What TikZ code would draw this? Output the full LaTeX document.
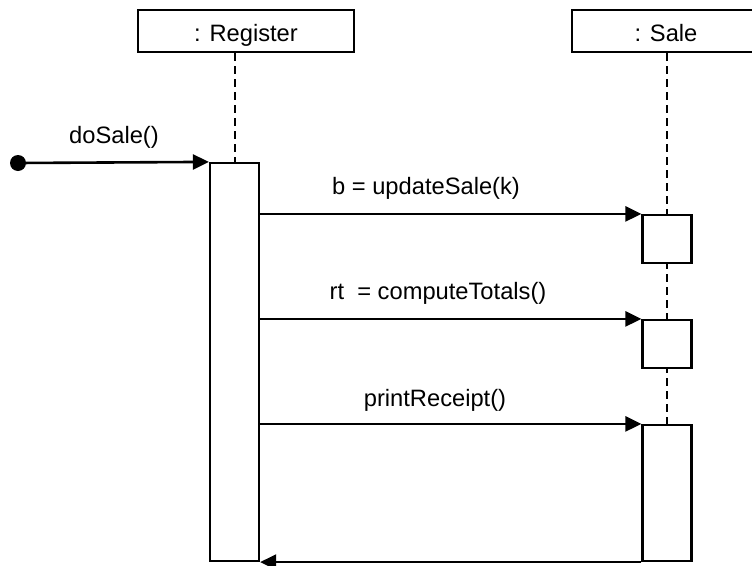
\documentclass[tikz,border=0pt]{standalone}
\usepackage{fontspec}
\setmainfont{Liberation Sans}
\usetikzlibrary{arrows.meta}
\begin{document}
\begin{tikzpicture}[x=1pt,y=-1pt,
  obj/.style={draw,line width=2.2pt,fill=white,inner sep=0,minimum height=42pt},
  act/.style={draw,line width=2.2pt,fill=white,inner sep=0,minimum width=49pt},
  life/.style={line width=2pt,dash pattern=on 8pt off 5pt},
  msg/.style={line width=2.6pt,-{Triangle[length=16pt,width=15pt]}},
  lbl/.style={font=\fontsize{23.7}{28}\selectfont,inner sep=0}]
\useasboundingbox (0,0) rectangle (752,565);
% object boxes
\node[obj,minimum width=216pt] (reg) at (246,31) {};
\node[obj,minimum width=216pt] (sale) at (680,31) {};
\node[lbl,anchor=base] (regt) at (246,41) {: Register};
\node[lbl,anchor=base] (salet) at (666,41) {: Sale};
% activation tops (for lifelines)
\coordinate (rtop) at (234.5,163);
\coordinate (stop) at (667,215);
% lifelines
\draw[life] (rtop |- reg.south) -- (rtop);
\draw[life] (stop |- sale.south) -- (667,561);
% activations
\node[act,minimum height=398pt] (ract) at (234.5,362) {};
\node[act,minimum height=48pt] (s1) at (667,239) {};
\node[act,minimum height=48pt] (s2) at (667,344) {};
\node[act,minimum height=136pt] (s3) at (667,493) {};
% found message
\node[circle,fill=black,inner sep=0,minimum size=16pt] (dot) at (18,163) {};
\draw[msg] (dot.center) -- (ract.north west);
\node[lbl] (l0) at (114,137) {doSale()};
% messages
\draw[msg] (ract.east |- s1.north) -- (s1.north west);
\node[lbl] (l1) at (426,188) {b = updateSale(k)};
\draw[msg] (ract.east |- s2.north) -- (s2.north west);
\node[lbl] (l2) at (438,293) {rt\ \ = computeTotals()};
\draw[msg] (ract.east |- s3.north) -- (s3.north west);
\node[lbl] (l3) at (435,400) {printReceipt()};
% return
\draw[msg] (s3.south west) -- (ract.east |- s3.south);
\end{tikzpicture}
\end{document}
